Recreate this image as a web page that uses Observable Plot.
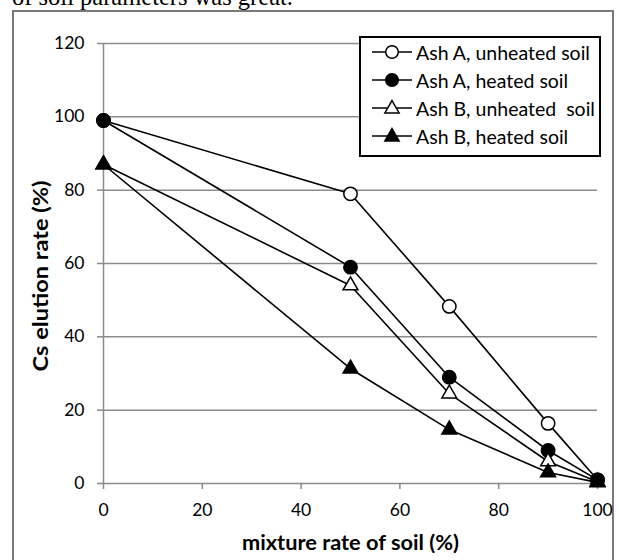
<!DOCTYPE html>
<html>
<head>
<meta charset="utf-8">
<script src="https://cdn.jsdelivr.net/npm/d3@7"></script>
<script src="https://cdn.jsdelivr.net/npm/@observablehq/plot@0.6"></script>
<style>
  html, body { margin: 0; padding: 0; background: #fff; overflow: hidden; }
  #wrap { position: relative; width: 619px; height: 560px; overflow: hidden; font-family: Lato, "Open Sans", sans-serif; }
  #body-text { position: absolute; left: 12px; top: -15px; font-family: "Liberation Serif", serif; font-size: 24.5px; line-height: 24.5px; color: #000; white-space: nowrap; }
  #frame { position: absolute; left: 12px; top: 10px; width: 602px; height: 600px; border: 2px solid #7a7a7a; box-sizing: border-box; }
  #chart { position: absolute; left: 0; top: 0; }
  #legend { position: absolute; left: 359px; top: 36px; width: 242px; height: 121px; border: 2px solid #000; box-sizing: border-box; background: #fff; padding: 0 0 0 11px; }
  .item { display: flex; align-items: center; height: 28px; font-size: 19.5px; color: #000; }
  .item svg { margin-right: 4px; flex: none; }
</style>
</head>
<body>
<div id="wrap">
  <div id="body-text">of soil parameters was great.</div>
  <div id="frame"></div>
  <div id="chart"></div>
  <div id="legend"></div>
</div>
<script>
const mixture = [0, 50, 70, 90, 100];
const seriesNames = ["Ash A, unheated soil", "Ash A, heated soil", "Ash B, unheated  soil", "Ash B, heated soil"];
const ashAUnheated = [99, 79, 48.3, 16.4, 1];
const ashAHeated = [99, 59, 29, 9, 1];
const ashBUnheated = [87, 54, 24.5, 6, 0.5];
const ashBHeated = [87, 31.3, 14.7, 3, 0.3];
const seriesSymbols = ["circle", "circle", "triangle", "triangle"];
const seriesFills = ["white", "black", "white", "black"];
const yTicks = [0, 20, 40, 60, 80, 100, 120];
const xTicks = [0, 20, 40, 60, 80, 100];
const yLabel = "Cs elution rate (%)";
const xLabel = "mixture rate of soil (%)";

const allValues = [ashAUnheated, ashAHeated, ashBUnheated, ashBHeated];
const data = [];
seriesNames.forEach((name, i) => {
  mixture.forEach((m, j) => data.push({series: name, x: m, y: allValues[i][j], symbol: seriesSymbols[i], fill: seriesFills[i]}));
});

const fontFam = "Lato, 'Open Sans', sans-serif";
const chart = Plot.plot({
  width: 619,
  height: 560,
  marginLeft: 103,
  marginRight: 22,
  marginTop: 43,
  marginBottom: 77,
  style: { fontFamily: fontFam, fontSize: "17.5px", color: "#000", background: "transparent", overflow: "visible" },
  x: { domain: [0, 100] },
  y: { domain: [0, 120] },
  marks: [
    Plot.gridY(yTicks.filter(d => d > 0), { stroke: "#8c8c8c", strokeOpacity: 1, strokeWidth: 1.5 }),
    Plot.ruleY([0], { stroke: "#8c8c8c", strokeWidth: 1.5 }),
    Plot.ruleX([0], { stroke: "#8c8c8c", strokeWidth: 1.5 }),
    Plot.axisY({ ticks: yTicks, tickSize: 6, tickPadding: 13, stroke: "#8c8c8c", strokeWidth: 1.5, fill: "#000", fontSize: 17.5,
      label: yLabel, labelAnchor: "center", labelArrow: "none", labelOffset: 66 }),
    Plot.axisX({ ticks: xTicks, tickSize: 6, tickPadding: 14, stroke: "#8c8c8c", strokeWidth: 1.5, fill: "#000", fontSize: 17.5,
      label: xLabel, labelAnchor: "center", labelArrow: "none", labelOffset: 66 }),
    Plot.line(data, { x: "x", y: "y", z: "series", stroke: "#000", strokeWidth: 1.6 }),
    Plot.dot(data, { filter: d => d.symbol === "circle", x: "x", y: "y", symbol: "symbol", fill: "fill", stroke: "#000", strokeWidth: 1.5, r: 6.7 }),
    Plot.dot(data, { filter: d => d.symbol === "triangle", x: "x", y: "y", symbol: "symbol", fill: "fill", stroke: "#000", strokeWidth: 1.5, r: 5.5 })
  ]
});

function styleLabel(aria, transform, dy, len) {
  const g = chart.querySelector(`g[aria-label='${aria}']`);
  if (!g) return;
  g.removeAttribute("transform");
  g.setAttribute("font-weight", "bold");
  g.setAttribute("font-size", "20px");
  const t = g.querySelector("text");
  if (!t) return;
  t.removeAttribute("x"); t.removeAttribute("y");
  t.setAttribute("dy", dy);
  t.setAttribute("text-anchor", "middle");
  t.setAttribute("font-weight", "bold");
  t.setAttribute("font-size", "20px");
  t.setAttribute("transform", transform);
  t.setAttribute("textLength", len);
  t.setAttribute("lengthAdjust", "spacingAndGlyphs");
}
styleLabel("y-axis label", "translate(40.5,276) rotate(-90)", "0.36em", 191);
styleLabel("x-axis label", "translate(350.5,550)", "0", 217);
document.getElementById("chart").appendChild(chart);

// legend
const legend = d3.select("#legend");
seriesNames.forEach((name, i) => {
  const item = legend.append("div").attr("class", "item");
  const svg = item.append("svg").attr("width", 40).attr("height", 18);
  svg.append("line").attr("x1", 0).attr("x2", 40).attr("y1", 9).attr("y2", 9).attr("stroke", "#000").attr("stroke-width", 1.6);
  const isCircle = seriesSymbols[i] === "circle";
  svg.append("path").attr("d", d3.symbol(isCircle ? d3.symbolCircle : d3.symbolTriangle, isCircle ? 125 : 88)())
    .attr("transform", `translate(20,${isCircle ? 9 : 9.8})`)
    .attr("fill", seriesFills[i]).attr("stroke", "#000").attr("stroke-width", 1.5);
  item.append("span").text(name).style("white-space", "pre");
});
</script>
</body>
</html>
